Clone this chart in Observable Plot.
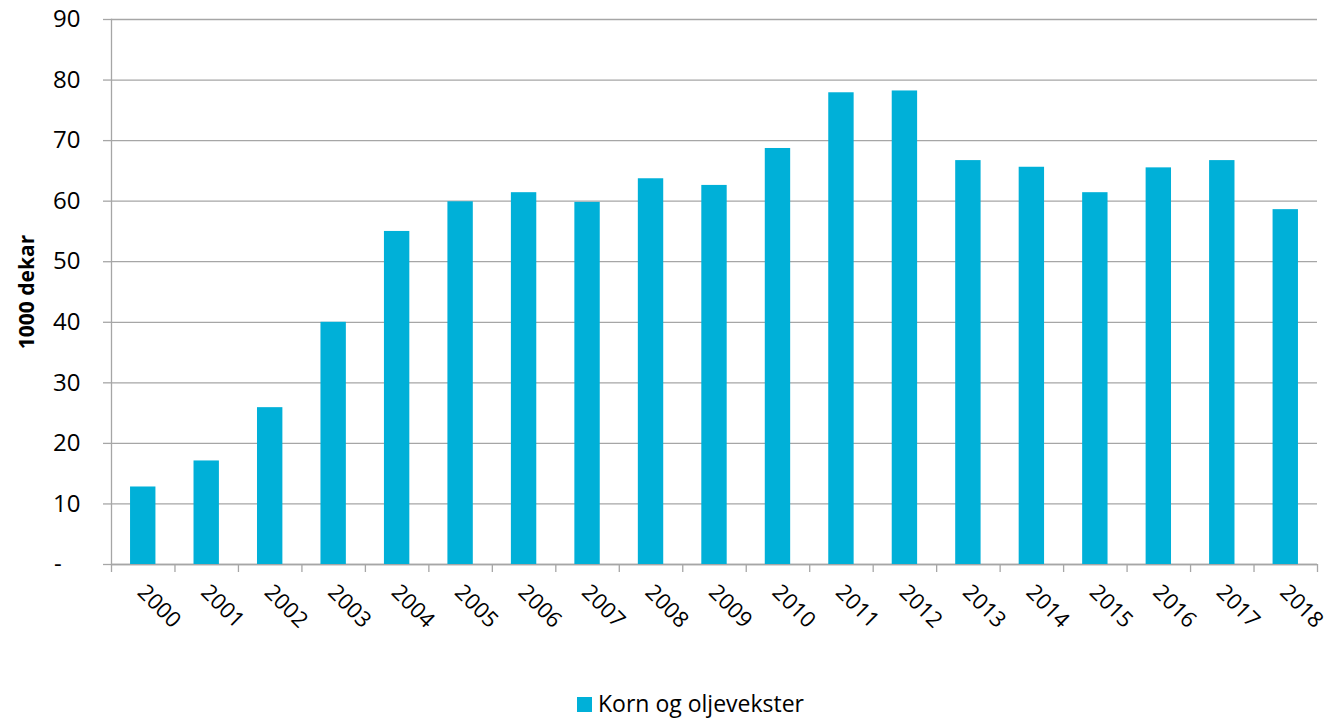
<!DOCTYPE html>
<html>
<head>
<meta charset="utf-8">
<script src="https://cdn.jsdelivr.net/npm/d3@7"></script>
<script src="https://cdn.jsdelivr.net/npm/@observablehq/plot@0.6"></script>
<style>
  html, body { margin: 0; padding: 0; background: #fff; }
  #chart { width: 1330px; }
  #legend { position: relative; width: 1330px; height: 49px; font-family: "Open Sans", sans-serif; font-size: 23px; color: #000; }
  #legend .sw { position: absolute; left: 577px; top: 27px; width: 15px; height: 15px; background: #00b0d8; }
  #legend .lb { position: absolute; left: 598px; top: 18px; line-height: 30px; white-space: nowrap; }
</style>
</head>
<body>
<div id="chart"></div>
<div id="legend"><span class="sw"></span><span class="lb"></span></div>
<script>
const years = [2000, 2001, 2002, 2003, 2004, 2005, 2006, 2007, 2008, 2009, 2010, 2011, 2012, 2013, 2014, 2015, 2016, 2017, 2018];
const values = [12.8, 17.1, 25.9, 40.0, 55.0, 59.9, 61.4, 59.8, 63.7, 62.6, 68.7, 77.9, 78.2, 66.7, 65.6, 61.4, 65.5, 66.7, 58.6];
const yTicks = [0, 10, 20, 30, 40, 50, 60, 70, 80, 90];
const seriesName = "Korn og oljevekster";
const yLabel = "1000 dekar";

const data = years.map((year, i) => ({year, value: values[i]}));

const W = 1330, H = 670, mL = 111, mR = 13, mT = 19, mB = 106;
const step = (W - mL - mR) / years.length;
const gray = "#a6a6a6";
const barColor = "#00b0d8";

const chart = Plot.plot({
  width: W,
  height: H,
  marginLeft: mL,
  marginRight: mR,
  marginTop: mT,
  marginBottom: mB,
  style: {fontFamily: "'Open Sans', sans-serif", fontSize: "24px", color: "#000", background: "#fff", overflow: "visible"},
  x: {type: "band", domain: years, paddingInner: 0.6, paddingOuter: 0.3, round: false, label: null},
  y: {domain: [0, 90], label: null},
  marks: [
    Plot.gridY(yTicks, {stroke: gray, strokeOpacity: 1, strokeWidth: 1.3}),
    Plot.axisY(yTicks, {tickSize: 8, text: null, stroke: gray, strokeWidth: 1.3, label: null}),
    Plot.axisY(yTicks, {tickSize: 0, tickPadding: 31, fontSize: 24, fill: "#000",
      tickFormat: d => d === 0 ? "-\u00a0\u00a0\u00a0" : String(d), label: null}),
    Plot.axisX(years, {tickSize: 8, text: null, dx: -step / 2, stroke: gray, strokeWidth: 1.3, label: null}),
    Plot.axisX([years[years.length - 1]], {tickSize: 8, text: null, dx: step / 2, stroke: gray, strokeWidth: 1.3, label: null}),
    Plot.frame({anchor: "left", stroke: gray, strokeWidth: 1.3}),
    Plot.ruleY([0], {stroke: gray, strokeWidth: 1.3}),
    Plot.barY(data, {x: "year", y: "value", fill: barColor}),
    Plot.axisX(years, {tickSize: 0, tickPadding: 24, tickRotate: 45, dx: -2, fontSize: 22, fill: "#000", label: null, tickFormat: d => String(d)}),
    Plot.text([yLabel], {text: d => d, y: () => 45, frameAnchor: "left", textAnchor: "middle", rotate: -90, dx: -84, fontSize: 21, fontWeight: "bold", fill: "#000"})
  ]
});

document.getElementById("chart").appendChild(chart);
document.querySelector("#legend .lb").textContent = seriesName;
</script>
</body>
</html>
